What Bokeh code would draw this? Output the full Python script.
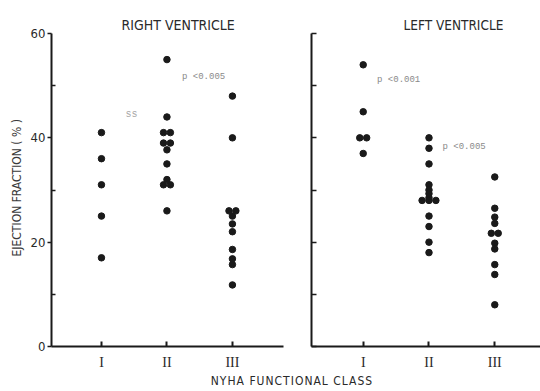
import numpy as np
from bokeh.plotting import figure
from bokeh.models import Range1d, FixedTicker, Label, Div, Title
from bokeh.layouts import row, column
from bokeh.embed import file_html
from bokeh.resources import INLINE

# ---- data (ejection fraction, %) ----
classes = ["I", "II", "III"]
rv_I = [41, 36, 31, 25, 17]
rv_II = [55, 44, 41, 41, 39, 39, 37.7, 35, 32, 31, 31, 26]
rv_III = [48, 40, 26, 26, 25, 23.5, 22, 18.6, 16.8, 15.7, 11.8]
lv_I = [54, 45, 40, 40, 37]
lv_II = [40, 38, 35, 31, 30, 29.3, 28.5, 28, 28, 28, 25, 23, 20, 18]
lv_III = [32.5, 26.5, 24.8, 23.6, 21.7, 21.7, 19.8, 18.7, 15.7, 13.8, 8]
y_major = [0, 20, 40, 60]
y_minor = [10, 30, 50]
y_all = [0, 10, 20, 30, 40, 50, 60]

SANS = "DejaVu Sans Condensed"
SERIF = "Liberation Serif"
MONO = "Liberation Mono"
INK = "#1a1a1a"


def positions(groups):
    xs, ys = [], []
    for gi, vals in enumerate(groups, start=1):
        vals = list(vals)
        seen = {}
        for v in vals:
            k = vals.count(v)
            i = seen.get(v, 0)
            seen[v] = i + 1
            xs.append(gi + (i - (k - 1) / 2) * 0.105)
            ys.append(v)
    return xs, ys


def make_fig(width, x_range, bl, br, bt, bb, title, offset, standoff, tsize):
    p = figure(width=width, height=372, output_backend="svg", toolbar_location=None,
               x_range=x_range, y_range=Range1d(0, 60),
               min_border_left=bl, min_border_right=br, min_border_top=bt, min_border_bottom=bb)
    p.outline_line_color = None
    p.grid.visible = False
    p.background_fill_color = "white"
    p.border_fill_color = "white"
    p.title.text = title
    p.title.align = "left"
    p.title.offset = offset
    p.title.standoff = standoff
    p.title.text_font = SANS
    p.title.text_font_size = tsize
    p.title.text_font_style = "normal"
    p.title.text_color = "#2a2a2a"
    xa = p.xaxis[0]
    xa.ticker = FixedTicker(ticks=[1, 2, 3])
    xa.major_label_overrides = {1: "I", 2: "II", 3: "III"}
    xa.major_tick_in = 5
    xa.major_tick_out = 0
    xa.minor_tick_line_color = None
    xa.axis_line_width = 2
    xa.axis_line_color = INK
    xa.major_tick_line_width = 2
    xa.major_tick_line_color = INK
    xa.major_label_text_font = SERIF
    xa.major_label_text_font_size = "14px"
    xa.major_label_text_color = "#2a2a2a"
    xa.major_label_standoff = 8
    ya = p.yaxis[0]
    ya.axis_line_width = 2
    ya.axis_line_color = INK
    ya.major_tick_line_width = 1.5
    ya.major_tick_line_color = INK
    ya.minor_tick_line_width = 1.5
    ya.minor_tick_line_color = INK
    return p


# ---- right ventricle (left panel) ----
pl = make_fig(292, Range1d(0.237, 3.78), 51, 9, 32, 25, "RIGHT  VENTRICLE", 70, 2, "14px")
ya = pl.yaxis[0]
ya.ticker = FixedTicker(ticks=y_major, minor_ticks=y_minor)
ya.major_tick_in = 0
ya.major_tick_out = 4
ya.minor_tick_in = 4
ya.minor_tick_out = 0
ya.major_label_standoff = 2
ya.major_label_text_font = SANS
ya.major_label_text_font_size = "13px"
ya.major_label_text_color = "#2a2a2a"
xs, ys = positions([rv_I, rv_II, rv_III])
pl.scatter(xs, ys, size=6.5, color=INK)
pl.add_layout(Label(x=1.46, y=44.5, text="ss", text_font=MONO, text_font_size="10px",
                    text_color="#a8a8a8", text_align="center", text_baseline="middle"))
pl.add_layout(Label(x=2.23, y=51.75, text="p <0.005", text_font=MONO, text_font_size="9px",
                    text_color="#8a8a8a", text_align="left", text_baseline="middle"))
ylab = Title(text="EJECTION  FRACTION ( % )", align="left", offset=90, standoff=8,
             text_font=SANS, text_font_size="12px", text_font_style="normal",
             text_color="#3a3a3a")
pl.add_layout(ylab, "left")

# ---- left ventricle (right panel) ----
pr = make_fig(248, Range1d(0.214, 3.695), 19, 0, 33, 24, "LEFT  VENTRICLE", 92, 1, "13.5px")
ya = pr.yaxis[0]
ya.ticker = FixedTicker(ticks=y_all)
ya.major_tick_in = 5
ya.major_tick_out = 0
ya.minor_tick_line_color = None
ya.major_label_text_font_size = "0px"
ya.major_label_overrides = {v: "" for v in y_all}
xs, ys = positions([lv_I, lv_II, lv_III])
pr.scatter(xs, ys, size=6.5, color=INK)
pr.add_layout(Label(x=1.21, y=51.0, text="p <0.001", text_font=MONO, text_font_size="9px",
                    text_color="#8a8a8a", text_align="left", text_baseline="middle"))
pr.add_layout(Label(x=2.205, y=38.3, text="p <0.005", text_font=MONO, text_font_size="9px",
                    text_color="#8a8a8a", text_align="left", text_baseline="middle"))

xlabel = Div(text="NYHA FUNCTIONAL CLASS", width=540, height=19,
             styles={"text-align": "center", "padding-left": "44px", "box-sizing": "border-box",
                     "font-family": SANS, "font-size": "12px", "letter-spacing": "1px",
                     "color": "#2a2a2a", "line-height": "19px", "margin": "0"})

layout = column(row(pl, pr, spacing=0), xlabel, spacing=0)
open("out.html", "w").write(file_html(layout, INLINE))
